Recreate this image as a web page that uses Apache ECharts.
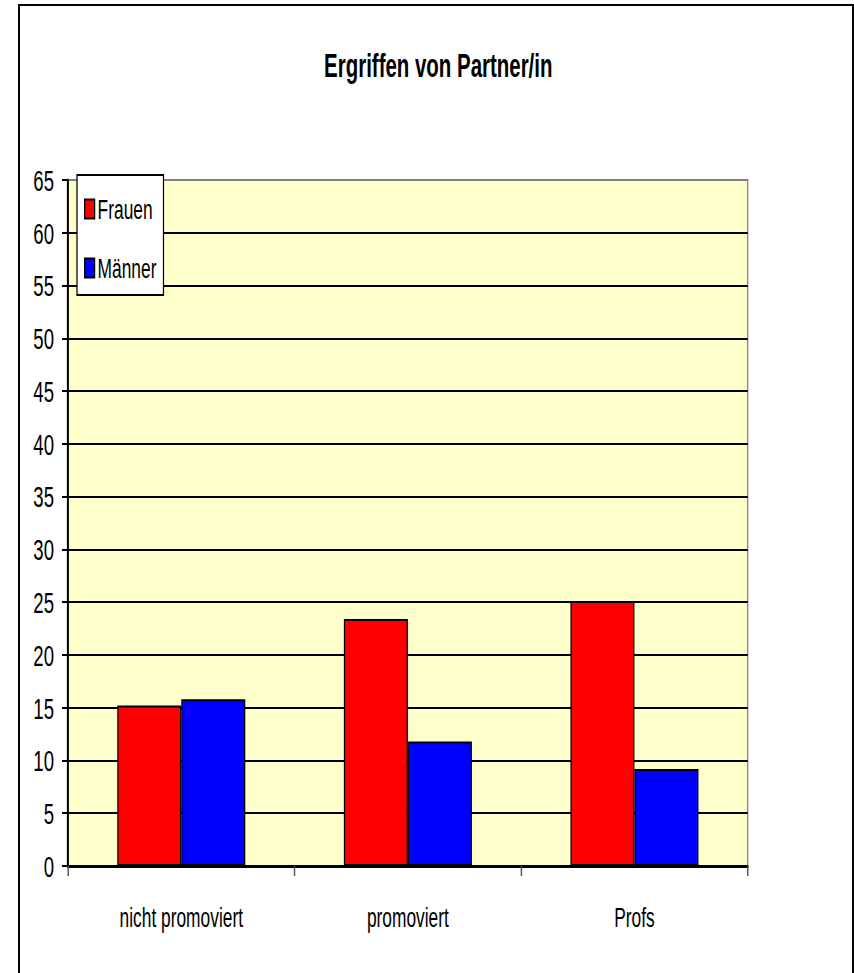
<!DOCTYPE html>
<html>
<head>
<meta charset="utf-8">
<script src="https://cdn.jsdelivr.net/npm/echarts@6/dist/echarts.min.js"></script>
<style>
  html, body { margin: 0; padding: 0; background: #fff; overflow: hidden; }
  #frame {
    position: absolute; left: 18px; top: 4px; width: 832px; height: 980px;
    border: 2px solid #000; border-bottom: none;
  }
  /* the original uses a narrow font; no narrow font is installed,
     so the chart is drawn wider and squeezed horizontally */
  #chart {
    position: absolute; left: 0; top: 0; width: 1377px; height: 973px;
    transform: scaleX(0.62); transform-origin: 0 0;
  }
</style>
</head>
<body>
<div id="frame"></div>
<div id="chart"></div>
<script>
const SX = 0.62;
const px = (v) => v / SX;
const FONT = '"Liberation Sans", Arial, sans-serif';

const categories = ["nicht promoviert", "promoviert", "Profs"];
const frauen = [15.2, 23.4, 25.1];
const maenner = [15.8, 11.8, 9.2];
const yTicks = { min: 0, max: 65, interval: 5 };

// grid lines black, top one (65) grey like the plot border
const splitColors = [];
for (let v = yTicks.min; v <= yTicks.max; v += yTicks.interval) {
  splitColors.push(v === yTicks.max ? "#808080" : "#000000");
}

const chart = echarts.init(document.getElementById("chart"), null, { renderer: "svg" });

chart.setOption({
  animation: false,
  textStyle: { fontFamily: FONT, color: "#000" },
  title: {
    text: "Ergriffen von Partner/in",
    left: px(321),
    top: 44,
    textStyle: { fontFamily: FONT, fontSize: 33, fontWeight: "bold", color: "#000" },
  },
  legend: {
    orient: "vertical",
    left: px(77),
    top: 175,
    backgroundColor: "#fff",
    borderColor: "#000",
    borderWidth: 2,
    padding: [20, px(7), 13, px(7)],
    itemGap: 31,
    itemWidth: px(10),
    itemHeight: 19,
    icon: "rect",
    textStyle: {
      fontFamily: FONT, fontSize: 28, lineHeight: 27, color: "#000",
      padding: [0, 0, 0, px(3) - 5],
    },
    data: ["Frauen", "Männer"],
  },
  grid: {
    left: px(68),
    right: px(106),
    top: 180,
    bottom: 107,
    show: true,
    backgroundColor: "#FFFFCC",
    borderColor: "#808080",
    borderWidth: 2,
  },
  xAxis: {
    type: "category",
    data: categories,
    axisLine: { lineStyle: { color: "#000", width: 3 } },
    axisTick: { show: true, length: 10, lineStyle: { color: "#555", width: 2.4 } },
    axisLabel: { fontFamily: FONT, fontSize: 28, color: "#000", margin: 37 },
  },
  yAxis: {
    type: "value",
    min: yTicks.min,
    max: yTicks.max,
    interval: yTicks.interval,
    axisLine: { show: true, lineStyle: { color: "#000", width: 3.2 } },
    axisTick: { show: true, length: px(6), lineStyle: { color: "#000", width: 2 } },
    axisLabel: { fontFamily: FONT, fontSize: 30, color: "#000", margin: px(14) },
    splitLine: { show: true, lineStyle: { color: splitColors, width: 2 } },
  },
  series: [
    {
      name: "Frauen",
      type: "bar",
      data: frauen,
      barWidth: px(64),
      barGap: "0%",
      itemStyle: { color: "#FF0000", borderColor: "#000", borderWidth: 2 },
    },
    {
      name: "Männer",
      type: "bar",
      data: maenner,
      barWidth: px(64),
      barGap: "0%",
      itemStyle: { color: "#0000FF", borderColor: "#000", borderWidth: 2 },
    },
  ],
});
</script>
</body>
</html>
